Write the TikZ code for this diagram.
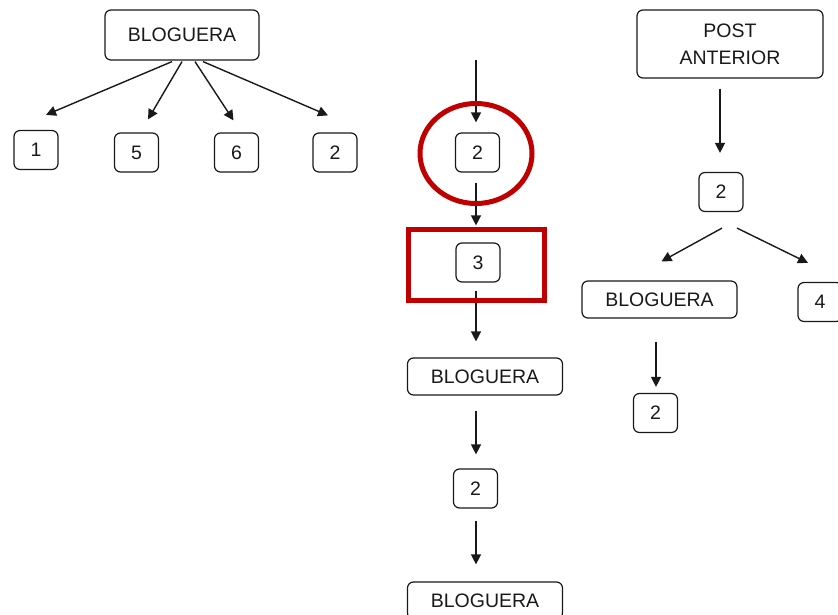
\documentclass[tikz,border=0pt]{standalone}
\usepackage{fontspec}
\setmainfont{Liberation Sans}
\usetikzlibrary{calc,arrows.meta}
\definecolor{hl}{RGB}{192,0,0}
\definecolor{ink}{RGB}{25,25,25}
\tikzset{
  box/.style={draw=ink, line width=1.2pt, rounded corners=6pt, inner sep=0pt,
    text=ink, font=\fontsize{19.5}{27}\selectfont, align=center},
  small/.style={box, minimum width=44pt, minimum height=39pt},
  wide/.style={box, minimum width=155pt, minimum height=37pt},
  arr/.style={draw=ink, line width=1.4pt, -{Triangle[length=10pt,width=10pt]}},
  hlmark/.style={draw=hl, line width=5pt}
}
\begin{document}
\begin{tikzpicture}[x=1pt,y=-1pt]
\useasboundingbox (0,0) rectangle (838,615);
% left tree
\node[box, minimum width=154pt, minimum height=50pt] (b1) at (182,35) {BLOGUERA};
\node[small] (l1) at (36,150) {1};
\node[small] (l5) at (136.5,152.5) {5};
\node[small] (l6) at (236.5,152.5) {6};
\node[small] (l2) at (335,152.5) {2};
\draw[arr] ($(b1.south)+(-10,1)$) -- ($(l1.north)+(10,-15)$);
\draw[arr] ($(b1.south)+(0,1)$) -- ($(l5.north)+(11.5,-13)$);
\draw[arr] ($(b1.south)+(13,1)$) -- ($(l6.north)+(-3,-12)$);
\draw[arr] ($(b1.south)+(21,1)$) -- ($(l2.north)+(-7,-17)$);
% middle column
\coordinate (top) at (476,60);
\node[small] (m2) at (477.5,152.5) {2};
\node[small] (m3) at (478,262.5) {3};
\node[wide] (mb1) at (485,376.5) {BLOGUERA};
\node[small] (m2b) at (475.5,488.5) {2};
\node[wide] (mb2) at (485,600.5) {BLOGUERA};
\draw[arr] (top) -- ($(m2.north)+(-1.5,-10)$);
\draw[arr] ($(m2.south)+(-1.5,10)$) -- ($(m3.north)+(-2,-17)$);
\draw[arr] ($(m3.south)+(-2,8)$) -- ($(mb1.north)+(-9,-16)$);
\draw[arr] ($(mb1.south)+(-9,15)$) -- ($(m2b.north)+(0.5,-14)$);
\draw[arr] ($(m2b.south)+(0.5,12)$) -- ($(mb2.north)+(-9,-17)$);
% red highlights
\draw[hlmark] (476,153.5) ellipse [x radius=56pt, y radius=50pt];
\draw[hlmark] (408,229) rectangle (544,300);
% right tree
\node[box, minimum width=186pt, minimum height=68pt] (pa) at (730,44) {POST\\ANTERIOR};
\node[small] (r2) at (721,192) {2};
\node[wide] (rb) at (659.5,299.5) {BLOGUERA};
\node[small] (r4) at (820,302) {4};
\node[small] (r2b) at (655.5,413) {2};
\draw[arr] ($(pa.south)+(-10,10)$) -- ($(r2.north)+(-1,-19)$);
\draw[arr] ($(r2.south)+(1,16)$) -- ($(rb.north)+(2,-19)$);
\draw[arr] ($(r2.south)+(16,16)$) -- ($(r4.north)+(-12,-19)$);
\draw[arr] ($(rb.south)+(-3.5,23)$) -- ($(r2b.north)+(0.5,-6)$);
\end{tikzpicture}
\end{document}
